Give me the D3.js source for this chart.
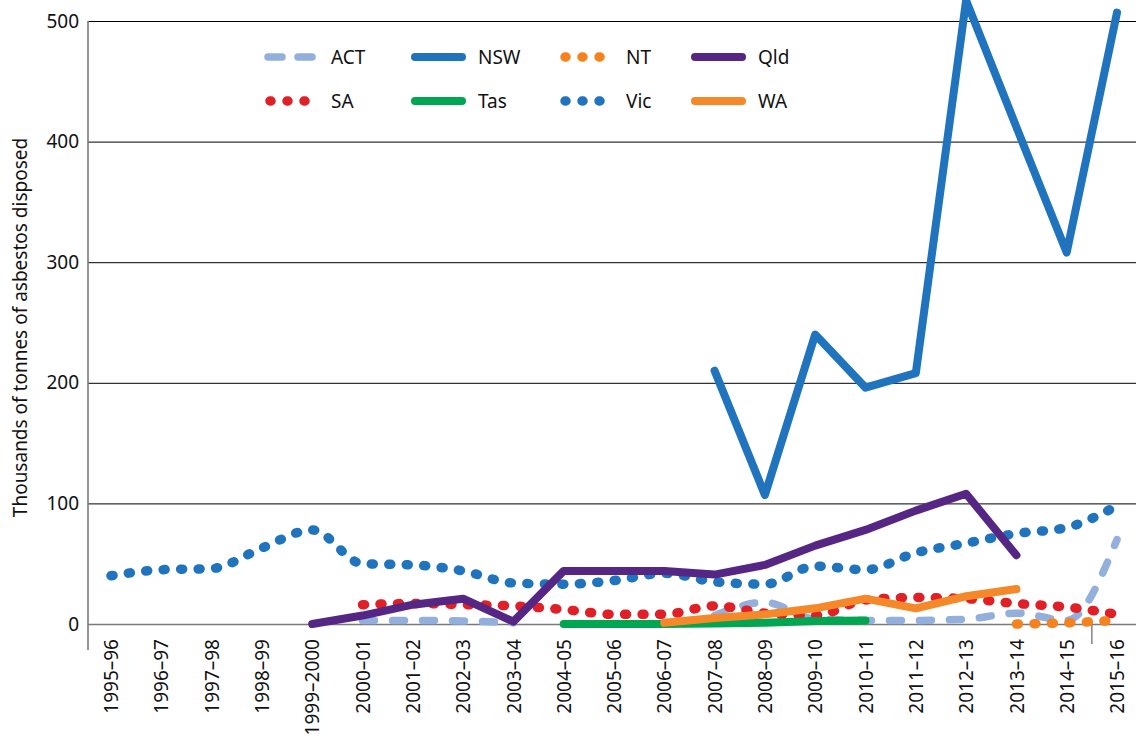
<!DOCTYPE html>
<html lang="en">

<head>
  <meta charset="UTF-8">
  <title>Asbestos disposed</title>
  <script src="https://cdn.jsdelivr.net/npm/d3@7"></script>
  <style>
    html,
    body {
      margin: 0;
      background: #fff;
    }

    svg {
      display: block;
      font-family: 'Noto Sans', sans-serif;
    }
  </style>
</head>

<body>
  <script>
    // canvas
    const width = 1136
    const height = 744

    // categories
    const years = ['1995–96', '1996–97', '1997–98', '1998–99', '1999–2000', '2000–01', '2001–02',
      '2002–03', '2003–04', '2004–05', '2005–06', '2006–07', '2007–08', '2008–09', '2009–10',
      '2010–11', '2011–12', '2012–13', '2013–14', '2014–15', '2015–16']

    // series (thousands of tonnes), null = no data
    const act = [null, null, null, null, null, 3, 3, 2.5, 1, null, null, null, 7, 18, 4, 3, 3, 4, 9, 3, 70]
    const nsw = [null, null, null, null, null, null, null, null, null, null, null, null, 210, 107, 240, 196, 208, 517, 412, 308, 507]
    const nt = [null, null, null, null, null, null, null, null, null, null, null, null, null, null, null, null, null, null, 0, 1, 3]
    const qld = [null, null, null, null, 0, 7, 16, 21, 2, 44, 44, 44, 41, 49, 65, 78, 94, 108, 57, null, null]
    const sa = [null, null, null, null, null, 16, 17, 16, 15, 12, 8, 8, 15, 9, 7, 20, 22, 21, 17, 14, 8]
    const tas = [null, null, null, null, null, null, null, null, null, 0, 0, 0, 0.5, 1, 2.5, 3, null, null, null, null, null]
    const vic = [40, 45, 46, 63, 78, 50, 49, 44, 34, 33, 36, 42, 35, 33, 48, 45, 59, 67, 75, 80, 98]
    const wa = [null, null, null, null, null, null, null, null, null, null, null, 1, 5, 8, 13, 21, 13, 23, 29, null, null]

    // y ticks
    const yTicks = [0, 100, 200, 300, 400, 500]

    // series styles
    const series = [
      { name: 'ACT', values: act, color: '#93afdc', type: 'dash' },
      { name: 'NSW', values: nsw, color: '#1f74bd', type: 'solid' },
      { name: 'NT', values: nt, color: '#f5821f', type: 'dot' },
      { name: 'Qld', values: qld, color: '#552683', type: 'solid' },
      { name: 'SA', values: sa, color: '#e01f26', type: 'dot' },
      { name: 'Tas', values: tas, color: '#00a650', type: 'solid' },
      { name: 'Vic', values: vic, color: '#1f74bd', type: 'dot' },
      { name: 'WA', values: wa, color: '#f5892a', type: 'solid' }
    ]

    const svg = d3.select('body').append('svg')
      .attr('width', width)
      .attr('height', height)

    const left = 88

    const x = d3.scalePoint()
      .domain(years)
      .range([111, 1117])

    const y = d3.scaleLinear()
      .domain([0, 500])
      .range([624, 21])

    // gridlines
    svg.append('g')
      .attr('transform', `translate(${left},0)`)
      .call(d3.axisLeft(y).tickValues(yTicks).tickSize(-(width - left)).tickFormat(''))
      .call(g => g.select('.domain').remove())
      .call(g => g.selectAll('line')
        .attr('stroke', d => d === 0 ? '#7a7a7a' : '#000')
        .attr('stroke-width', d => d === 0 ? 1.6 : 1))

    // y tick labels
    svg.append('g')
      .attr('transform', `translate(${left},0)`)
      .call(d3.axisLeft(y).tickValues(yTicks).tickSize(0).tickPadding(9))
      .call(g => g.select('.domain').remove())
      .call(g => g.selectAll('text')
        .attr('font-family', "'Noto Sans', sans-serif")
        .attr('font-size', 19)
        .attr('fill', '#111'))

    // y axis line
    svg.append('line')
      .attr('x1', left).attr('x2', left)
      .attr('y1', y(500)).attr('y2', y(0) + 26)
      .attr('stroke', '#7a7a7a')
      .attr('stroke-width', 1.6)

    // separator tick between last two years
    const sepX = (x(years[19]) + x(years[20])) / 2
    svg.append('line')
      .attr('x1', sepX).attr('x2', sepX)
      .attr('y1', y(0)).attr('y2', y(0) + 20)
      .attr('stroke', '#7a7a7a')
      .attr('stroke-width', 1.4)

    // x labels
    svg.append('g')
      .attr('transform', `translate(0,${y(0)})`)
      .call(d3.axisBottom(x).tickSize(0))
      .call(g => g.select('.domain').remove())
      .call(g => g.selectAll('text')
        .attr('font-family', "'Noto Sans', sans-serif")
        .attr('font-size', 19)
        .attr('fill', '#111')
        .attr('text-anchor', 'end')
        .attr('transform', 'rotate(-90)')
        .attr('x', -15)
        .attr('y', 0)
        .attr('dy', '0.35em'))

    // y axis title
    svg.append('text')
      .attr('transform', `translate(27,${(y(0) + y(500)) / 2 + 5}) rotate(-90)`)
      .attr('text-anchor', 'middle')
      .attr('font-size', 19)
      .attr('fill', '#111')
      .text('Thousands of tonnes of asbestos disposed')

    const strokeStyle = (sel, s) => {
      sel.attr('fill', 'none')
        .attr('stroke', s.color)
        .attr('stroke-linecap', 'round')
        .attr('stroke-linejoin', 'round')
      if (s.type === 'dot') {
        sel.attr('stroke-width', 9.5).attr('stroke-dasharray', '2 15.5')
      } else if (s.type === 'dash') {
        sel.attr('stroke-width', 7.5).attr('stroke-dasharray', '12 18')
      } else {
        sel.attr('stroke-width', 8)
      }
    }

    // draw lines
    const drawOrder = ['Vic', 'ACT', 'SA', 'Tas', 'NT', 'WA', 'Qld', 'NSW']
    drawOrder.forEach(name => {
      const s = series.find(d => d.name === name)
      const line = d3.line()
        .defined(d => d !== null)
        .x((d, i) => x(years[i]))
        .y(d => y(d))
        .curve(s.type === 'solid' ? d3.curveLinear : d3.curveMonotoneX)
      svg.append('path')
        .datum(s.values)
        .attr('d', line)
        .call(strokeStyle, s)
    })

    // legend
    const legendCols = [265, 412, 560, 692]
    const legendRows = [57, 101]
    const legend = svg.append('g')
    series.forEach((s, i) => {
      const lx = legendCols[i % 4]
      const ly = legendRows[Math.floor(i / 4)]
      legend.append('line')
        .attr('x1', lx).attr('x2', s.type === 'solid' ? lx + 50 : lx + 48)
        .attr('y1', ly).attr('y2', ly)
        .call(strokeStyle, s)
        .attr('stroke-dasharray', s.type === 'dot' ? '1 16' : s.type === 'dash' ? '14 16' : null)
        .attr('x1', s.type === 'dot' ? lx + 5 : lx + 3)
      legend.append('text')
        .attr('x', lx + 66)
        .attr('y', ly)
        .attr('dy', '0.35em')
        .attr('font-size', 19)
        .attr('fill', '#111')
        .text(s.name)
    })
  </script>
</body>

</html>
